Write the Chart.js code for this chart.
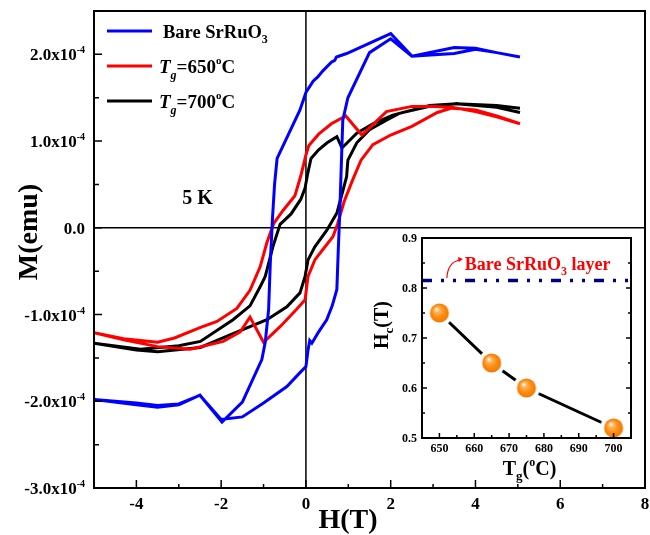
<!DOCTYPE html>
<html>
<head>
<meta charset="utf-8">
<script src="https://cdn.jsdelivr.net/npm/chart.js@4.4.1/dist/chart.umd.min.js"></script>
<style>
  html, body { margin: 0; padding: 0; background: #fff; }
  #wrap { position: relative; width: 650px; height: 535px; }
  #main { position: absolute; left: 0; top: 0; }
  #inset { position: absolute; left: 360px; top: 225px; }
</style>
</head>
<body>
<div id="wrap">
  <canvas id="main" width="650" height="535"></canvas>
  <canvas id="inset" width="285" height="260"></canvas>
</div>
<script>
// --- DATA (M in units of 1e-4 emu) ---
const bareH = [5.05, 4.5, 4.0, 3.5, 2.5, 2.0, 0.96, 0.72, 0.68, 0.6, 0.4, 0.28, 0.17, 0.0, -0.14, -0.68, -0.74, -0.79, -0.84, -0.88, -0.96, -1.04, -1.5, -1.98, -2.5, -3.0, -3.5, -4.0, -5.0,
               -4.0, -3.5, -3.0, -2.5, -2.0, -1.5, -1.0, -0.45, -0.14, 0.0, 0.05, 0.09, 0.14, 0.3, 0.49, 0.62, 0.73, 0.76, 0.8, 0.84, 0.87, 0.99, 1.5, 2.0, 2.5, 3.5, 4.0, 4.5, 5.05];
const bareM = [1.97, 2.02, 2.07, 2.08, 1.98, 2.24, 2.01, 1.97, 1.93, 1.91, 1.81, 1.74, 1.69, 1.56, 1.36, 0.8, 0.5, 0.1, -0.4, -0.94, -1.32, -1.52, -2.01, -2.24, -1.93, -2.04, -2.07, -2.04, -1.98,
               -2.02, -2.05, -2.03, -1.93, -2.21, -2.18, -2.02, -1.83, -1.67, -1.6, -1.41, -1.3, -1.33, -1.2, -1.06, -0.9, -0.71, -0.3, 0.2, 0.8, 1.24, 1.5, 2.02, 2.18, 1.98, 2.01, 2.06, 2.02, 1.97];

const g650H = [5.05, 4.5, 4.0, 3.44, 3.0, 2.5, 1.9, 1.32, 0.94, 0.6, 0.3, 0.07, 0.0, -0.12, -0.26, -0.54, -0.76, -0.92, -1.08, -1.32, -1.63, -2.1, -2.5, -3.1, -3.5, -4.3, -5.0,
               -4.3, -3.5, -2.73, -1.95, -1.55, -1.32, -1.0, -0.61, -0.22, -0.02, 0.05, 0.21, 0.4, 0.64, 0.75, 0.9, 1.1, 1.3, 1.58, 2.0, 2.5, 3.1, 3.44, 4.0, 4.5, 5.05];
const g650M = [1.2, 1.28, 1.34, 1.39, 1.4, 1.4, 1.34, 1.07, 1.29, 1.2, 1.08, 0.95, 0.84, 0.6, 0.37, 0.2, 0.05, -0.17, -0.45, -0.72, -0.93, -1.08, -1.15, -1.27, -1.32, -1.28, -1.21,
               -1.29, -1.37, -1.4, -1.31, -1.2, -1.03, -1.32, -1.14, -0.94, -0.83, -0.56, -0.37, -0.25, -0.1, 0.05, 0.3, 0.55, 0.78, 0.96, 1.07, 1.17, 1.33, 1.38, 1.36, 1.29, 1.2];

const g700H = [5.05, 4.5, 3.55, 2.92, 2.05, 1.58, 1.2, 0.85, 0.73, 0.5, 0.3, 0.12, 0.04, -0.02, -0.12, -0.35, -0.61, -0.78, -0.96, -1.08, -1.32, -1.72, -2.49, -3.0, -3.9, -5.0,
               -4.0, -3.5, -2.49, -1.72, -0.92, -0.45, -0.14, -0.02, 0.05, 0.21, 0.49, 0.73, 0.96, 0.99, 1.2, 1.5, 1.9, 2.2, 2.92, 3.55, 4.5, 5.05];
const g700M = [1.33, 1.39, 1.43, 1.41, 1.3, 1.2, 1.09, 0.92, 1.05, 0.98, 0.9, 0.8, 0.62, 0.46, 0.33, 0.16, 0.04, -0.22, -0.56, -0.68, -0.9, -1.06, -1.31, -1.36, -1.4, -1.33,
               -1.41, -1.43, -1.38, -1.22, -1.06, -0.91, -0.75, -0.56, -0.37, -0.22, -0.03, 0.17, 0.59, 0.78, 0.98, 1.13, 1.24, 1.32, 1.4, 1.43, 1.41, 1.38];

const xTicks = [-4, -2, 0, 2, 4, 6, 8];
const yTicks = [-3, -2, -1, 0, 1, 2];

// inset: coercive field vs growth temperature
const insetTg = [650, 665, 675, 700];
const insetHc = [0.75, 0.65, 0.60, 0.52];
const bareHc = 0.815;
const insetXTicks = [650, 660, 670, 680, 690, 700];
const insetYTicks = [0.5, 0.6, 0.7, 0.8, 0.9];

const FONT = "'Liberation Serif', 'Times New Roman', serif";

function pts(xs, ys) {
    return xs.map((v, i) => ({ x: v, y: ys[i] }));
}

// text with sub/superscripts: parts = [text, size, dy, style]
function rich(ctx, parts, x, y, align) {
    let w = 0;
    parts.forEach(p => {
        ctx.font = `${p[3] || 'normal'} bold ${p[1]}px ${FONT}`;
        w += ctx.measureText(p[0]).width;
    });
    let cx = align === 'center' ? x - w / 2 : (align === 'right' ? x - w : x);
    ctx.textAlign = 'left';
    ctx.textBaseline = 'alphabetic';
    parts.forEach(p => {
        ctx.font = `${p[3] || 'normal'} bold ${p[1]}px ${FONT}`;
        ctx.fillText(p[0], cx, y + (p[2] || 0));
        cx += ctx.measureText(p[0]).width;
    });
}

// --- MAIN CHART ---
const legendRows = [
    { color: '#0000ff', parts: [['Bare SrRuO', 18.5, 0], ['3', 12, 5]] },
    { color: '#ff0000', parts: [['T', 19, 0, 'italic'], ['g', 12, 6, 'italic'], ['=650', 19, 0], ['o', 11, -9], ['C', 19, 0]] },
    { color: '#000000', parts: [['T', 19, 0, 'italic'], ['g', 12, 6, 'italic'], ['=700', 19, 0], ['o', 11, -9], ['C', 19, 0]] }
];

const mainDecor = {
    id: 'mainDecor',
    beforeDatasetsDraw(chart) {
        const { ctx, chartArea: a, scales: { x, y } } = chart;
        ctx.save();
        ctx.strokeStyle = '#000';
        ctx.lineWidth = 1.5;
        ctx.beginPath();
        ctx.moveTo(a.left, y.getPixelForValue(0));
        ctx.lineTo(a.right, y.getPixelForValue(0));
        ctx.moveTo(x.getPixelForValue(0), a.top);
        ctx.lineTo(x.getPixelForValue(0), a.bottom);
        ctx.stroke();
        ctx.restore();
    },
    afterDraw(chart) {
        const { ctx, chartArea: a, scales: { x, y } } = chart;
        ctx.save();
        ctx.strokeStyle = '#000';
        ctx.fillStyle = '#000';
        ctx.lineWidth = 2;
        ctx.strokeRect(a.left, a.top, a.right - a.left, a.bottom - a.top);

        // inward ticks
        ctx.lineWidth = 1.5;
        ctx.beginPath();
        for (let v = x.min + 1; v < x.max; v++) {
            const px = x.getPixelForValue(v);
            ctx.moveTo(px, a.bottom);
            ctx.lineTo(px, a.bottom - (v % 2 === 0 ? 8 : 4));
        }
        for (let v = y.min + 0.5; v < y.max; v += 0.5) {
            const py = y.getPixelForValue(v);
            ctx.moveTo(a.left, py);
            ctx.lineTo(a.left + (Number.isInteger(v) ? 8 : 5), py);
        }
        ctx.stroke();

        // tick labels
        xTicks.forEach(v => rich(ctx, [[String(v), 17, 0]], x.getPixelForValue(v), a.bottom + 21, 'center'));
        yTicks.forEach(v => {
            const py = y.getPixelForValue(v) + 6;
            if (v === 0) rich(ctx, [['0.0', 17, 0]], 85, py, 'right');
            else rich(ctx, [[v.toFixed(1) + 'x10', 17, 0], ['-4', 10, -7]], 85, py, 'right');
        });

        // axis titles
        rich(ctx, [['H(T)', 28, 0]], 348, 528, 'center');
        ctx.save();
        ctx.translate(37, 232);
        ctx.rotate(-Math.PI / 2);
        rich(ctx, [['M(emu)', 28, 0]], 0, 0, 'center');
        ctx.restore();

        // legend
        legendRows.forEach((r, i) => {
            const ly = a.top + 20 + i * 35;
            ctx.strokeStyle = r.color;
            ctx.lineWidth = 3;
            ctx.beginPath();
            ctx.moveTo(a.left + 13, ly);
            ctx.lineTo(a.left + 58, ly);
            ctx.stroke();
            ctx.fillStyle = '#000';
            rich(ctx, r.parts, a.left + (i === 0 ? 69 : 65), ly + 7, 'left');
        });

        rich(ctx, [['5 K', 20, 0]], x.getPixelForValue(-2.56), y.getPixelForValue(0.27), 'center');
        ctx.restore();
    }
};

new Chart(document.getElementById('main'), {
    type: 'scatter',
    data: {
        datasets: [
            { label: 'Bare SrRuO3', data: pts(bareH, bareM), borderColor: '#0000ff' },
            { label: 'Tg=650°C', data: pts(g650H, g650M), borderColor: '#ff0000' },
            { label: 'Tg=700°C', data: pts(g700H, g700M), borderColor: '#000000' }
        ]
    },
    options: {
        responsive: false,
        animation: false,
        devicePixelRatio: 1,
        layout: { padding: { left: 94, top: 11, right: 5, bottom: 47 } },
        datasets: { scatter: { showLine: true, borderWidth: 3, pointRadius: 0, tension: 0 } },
        plugins: { legend: { display: false }, tooltip: { enabled: false } },
        scales: {
            x: { type: 'linear', min: -5, max: 8, display: false },
            y: { type: 'linear', min: -3, max: 2.5, display: false }
        }
    },
    plugins: [mainDecor]
});

// --- INSET ---
function makeBall() {
    const c = document.createElement('canvas');
    c.width = 28; c.height = 28;
    const g = c.getContext('2d');
    g.fillStyle = '#fff';
    g.beginPath(); g.arc(14, 14, 13.5, 0, Math.PI * 2); g.fill();
    const grad = g.createRadialGradient(11, 10, 0.5, 14, 14, 10);
    grad.addColorStop(0, '#fffaf0');
    grad.addColorStop(0.22, '#ffb560');
    grad.addColorStop(0.6, '#ff8c10');
    grad.addColorStop(1, '#ee7700');
    g.fillStyle = grad;
    g.beginPath(); g.arc(14, 14, 9.5, 0, Math.PI * 2); g.fill();
    return c;
}

const insetDecor = {
    id: 'insetDecor',
    beforeDraw(chart) {
        const { ctx, chartArea: a } = chart;
        ctx.save();
        ctx.fillStyle = '#fff';
        ctx.fillRect(a.left, a.top, a.right - a.left, a.bottom - a.top);
        ctx.restore();
    },
    afterDraw(chart) {
        const { ctx, chartArea: a, scales: { x, y } } = chart;
        ctx.save();
        ctx.strokeStyle = '#000';
        ctx.fillStyle = '#000';
        ctx.lineWidth = 2;
        ctx.strokeRect(a.left, a.top, a.right - a.left, a.bottom - a.top);

        ctx.lineWidth = 1.5;
        ctx.beginPath();
        for (let v = 650; v <= 700; v += 5) {
            const px = x.getPixelForValue(v);
            ctx.moveTo(px, a.bottom);
            ctx.lineTo(px, a.bottom - (v % 10 === 0 ? 5 : 3));
        }
        for (let k = 1; k < 8; k++) {
            const v = 0.5 + k * 0.05;
            const py = y.getPixelForValue(v);
            const len = k % 2 === 0 ? 5 : 3;
            ctx.moveTo(a.left, py); ctx.lineTo(a.left + len, py);
            ctx.moveTo(a.right, py); ctx.lineTo(a.right - len, py);
        }
        ctx.stroke();

        insetXTicks.forEach(v => rich(ctx, [[String(v), 12, 0]], x.getPixelForValue(v), a.bottom + 14, 'center'));
        insetYTicks.forEach(v => rich(ctx, [[v.toFixed(1), 12, 0]], a.left - 5, y.getPixelForValue(v) + 4, 'right'));

        rich(ctx, [['T', 20, 0], ['g', 13, 5], ['(', 20, 0], ['o', 12, -9], ['C)', 20, 0]], (a.left + a.right) / 2 + 3, 250, 'center');
        ctx.save();
        ctx.translate(28, 100);
        ctx.rotate(-Math.PI / 2);
        rich(ctx, [['H', 20, 0], ['c', 13, 5], ['(T)', 20, 0]], 0, 0, 'center');
        ctx.restore();

        // annotation of the bare film value
        const tx = x.getPixelForValue(657.3);
        const ty = y.getPixelForValue(0.836);
        ctx.fillStyle = '#ff0000';
        rich(ctx, [['Bare SrRuO', 18, 0], ['3', 12, 5], [' layer', 18, 0]], tx, ty, 'left');
        ctx.strokeStyle = '#ff0000';
        ctx.lineWidth = 1.2;
        ctx.beginPath();
        ctx.moveTo(tx - 18, ty + 8);
        ctx.quadraticCurveTo(tx - 17, ty - 8, tx - 5, ty - 10);
        ctx.stroke();
        ctx.beginPath();
        ctx.moveTo(tx - 2, ty - 11);
        ctx.lineTo(tx - 7, ty - 13);
        ctx.lineTo(tx - 6, ty - 8);
        ctx.closePath();
        ctx.fillStyle = '#ff0000';
        ctx.fill();
        ctx.restore();
    }
};

new Chart(document.getElementById('inset'), {
    type: 'scatter',
    data: {
        datasets: [
            {
                label: 'Bare SrRuO3 layer',
                data: [{ x: 645, y: bareHc }, { x: 705, y: bareHc }],
                borderColor: '#000080', borderWidth: 3.5, borderDash: [10, 9, 3, 9, 3, 9],
                showLine: true, pointRadius: 0
            },
            {
                label: 'Hc',
                data: pts(insetTg, insetHc),
                borderColor: '#000', borderWidth: 3, showLine: true,
                pointStyle: makeBall()
            }
        ]
    },
    options: {
        responsive: false,
        animation: false,
        devicePixelRatio: 1,
        layout: { padding: { left: 62, top: 13, right: 14, bottom: 47 } },
        plugins: { legend: { display: false }, tooltip: { enabled: false } },
        scales: {
            x: { type: 'linear', min: 645, max: 705, display: false },
            y: { type: 'linear', min: 0.5, max: 0.9, display: false }
        }
    },
    plugins: [insetDecor]
});
</script>
</body>
</html>
